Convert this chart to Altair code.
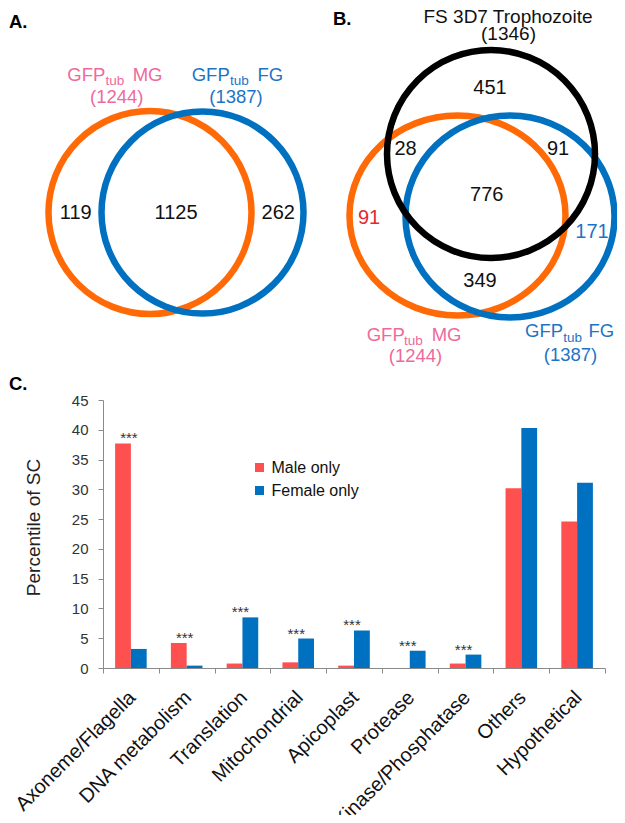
import altair as alt
import pandas as pd

# ---------------- data ----------------
categories = ["Axoneme/Flagella", "DNA metabolism", "Translation", "Mitochondrial",
              "Apicoplast", "Protease", "Kinase/Phosphatase", "Others", "Hypothetical"]
male_only = [37.7, 4.2, 0.75, 0.95, 0.4, 0.0, 0.75, 30.2, 24.6]
female_only = [3.2, 0.4, 8.5, 4.95, 6.3, 2.9, 2.25, 40.3, 31.1]
significant = [True, True, True, True, True, True, True, False, False]
series_names = ["Male only", "Female only"]
y_ticks = [0, 5, 10, 15, 20, 25, 30, 35, 40, 45]

venn_a_counts = ["119", "1125", "262"]                       # MG only, MG&FG, FG only
venn_b_counts = ["451", "28", "91", "776", "91", "171", "349"]  # FS, FS&MG, FS&FG, all, MG, FG, MG&FG
mg_total, fg_total, fs_total = "(1244)", "(1387)", "(1346)"

# ---------------- styling ----------------
FONT = "Liberation Sans"
RED, BLUE = "#FF5050", "#0070C0"
ORANGE, RING_BLUE = "#FF6A06", "#0070C0"
PINK, LBLUE, NRED = "#EE6A9B", "#1E74C4", "#E22A2E"
BAR_W, BAR_H = 502, 268
PX0, PY0 = 103, 400          # picture position of the bar plot's top-left corner

# ---------------- bar chart ----------------
bars_df = pd.DataFrame({
    "category": categories * 2,
    "series": [s for s in series_names for _ in categories],
    "value": male_only + female_only,
})
stars_df = pd.DataFrame({
    "category": [c for c, s in zip(categories, significant) if s],
    "value": [max(m, f) for m, f, s in zip(male_only, female_only, significant) if s],
})

x_enc = alt.X("category:N", sort=categories,
              scale=alt.Scale(domain=categories, paddingInner=0, paddingOuter=0),
              axis=alt.Axis(title=None, labelAngle=315, labelAlign="right", labelBaseline="top",
                            labelFontSize=20, labelColor="#111", labelPadding=14, labelOffset=-6,
                            labelLimit=0, labelOverlap=False, tickBand="extent", tickSize=5,
                            tickColor="#8a8a8a", domainColor="#8a8a8a", grid=False))
y_enc = alt.Y("value:Q", scale=alt.Scale(domain=[0, 45], nice=False),
              axis=alt.Axis(values=y_ticks, title="Percentile of SC", titleFontSize=19,
                            titleFontWeight="normal", titleColor="#222", titleAngle=270,
                            titleX=-70, titleY=127, titleAlign="center", titleBaseline="middle",
                            labelFontSize=15, labelColor="#333", labelPadding=10, tickSize=5,
                            tickColor="#8a8a8a", domainColor="#8a8a8a", grid=False))

bars = alt.Chart(bars_df).mark_bar().encode(
    x=x_enc,
    xOffset=alt.XOffset("series:N", sort=series_names,
                        scale=alt.Scale(domain=series_names, paddingInner=0, paddingOuter=0.766)),
    y=y_enc,
    color=alt.Color("series:N", scale=alt.Scale(domain=series_names, range=[RED, BLUE]),
                    legend=alt.Legend(title=None, orient="none", legendX=148.5, legendY=59.5,
                                      symbolType="square", symbolSize=81, symbolStrokeWidth=0,
                                      labelFontSize=16, labelColor="#111", labelOffset=4,
                                      rowPadding=7, padding=0)),
)
stars = alt.Chart(stars_df).mark_text(text="***", fontSize=15, baseline="middle", dy=-5, dx=-2,
                                      color="#333").encode(x=x_enc, y=y_enc)
bar_part = alt.layer(bars, stars)

# ---------------- Venn diagrams (picture coordinates through linear scales) ----------------
vx = alt.X("x:Q", scale=alt.Scale(domain=[PX0, PX0 + BAR_W], nice=False, zero=False), axis=None)
vy = alt.Y("y:Q", scale=alt.Scale(domain=[PY0, PY0 + BAR_H], nice=False, zero=False, reverse=True),
           axis=None)


def ellipse(r):
    k = 0.5523
    return (f"M-1,0C-1,{-k*r:.4f},{-k:.4f},{-r:.4f},0,{-r:.4f}"
            f"C{k:.4f},{-r:.4f},1,{-k*r:.4f},1,0"
            f"C1,{k*r:.4f},{k:.4f},{r:.4f},0,{r:.4f}"
            f"C{-k:.4f},{r:.4f},-1,{k*r:.4f},-1,0Z")


rings_df = pd.DataFrame([
    dict(x=150.0, y=212.5, shape="circle", size=203 ** 2, color=ORANGE),
    dict(x=202.5, y=212.5, shape="circle", size=202 ** 2, color=RING_BLUE),
    dict(x=457.5, y=215.5, shape=ellipse(200 / 216), size=216 ** 2, color=ORANGE),
    dict(x=510.0, y=216.5, shape=ellipse(202 / 209), size=209 ** 2, color=RING_BLUE),
    dict(x=491.0, y=154.0, shape="circle", size=208 ** 2, color="#000000"),
])
rings = alt.Chart(rings_df).mark_point(filled=False, strokeWidth=6.5, opacity=1).encode(
    x=vx, y=vy,
    shape=alt.Shape("shape:N", scale=None),
    size=alt.Size("size:Q", scale=None),
    color=alt.Color("color:N", scale=None),
)

left_df = pd.DataFrame([
    # panel A
    dict(x=67.3, y=80.7, text="GFP", color=PINK, fs=18.5),
    dict(x=105.5, y=85.0, text="tub", color=PINK, fs=13.5),
    dict(x=132.7, y=80.7, text="MG", color=PINK, fs=18.5),
    dict(x=191.7, y=80.7, text="GFP", color=LBLUE, fs=18.5),
    dict(x=230.0, y=85.0, text="tub", color=LBLUE, fs=13.5),
    dict(x=257.5, y=80.7, text="FG", color=LBLUE, fs=18.5),
    # panel B
    dict(x=366.7, y=340.7, text="GFP", color=PINK, fs=18.5),
    dict(x=404.0, y=345.0, text="tub", color=PINK, fs=13.5),
    dict(x=431.7, y=340.7, text="MG", color=PINK, fs=18.5),
    dict(x=525.0, y=337.3, text="GFP", color=LBLUE, fs=18.5),
    dict(x=563.3, y=341.7, text="tub", color=LBLUE, fs=13.5),
    dict(x=588.5, y=337.3, text="FG", color=LBLUE, fs=18.5),
])
center_df = pd.DataFrame([
    dict(x=116.7, y=102.5, text=mg_total, color=PINK, fs=18.5),
    dict(x=236.0, y=102.5, text=fg_total, color=LBLUE, fs=18.5),
    dict(x=508.0, y=23.0, text="FS  3D7 Trophozoite", color="#111", fs=19),
    dict(x=508.5, y=39.5, text=fs_total, color="#111", fs=19),
    dict(x=415.5, y=362.0, text=mg_total, color=PINK, fs=18.5),
    dict(x=570.5, y=360.5, text=fg_total, color=LBLUE, fs=18.5),
])
count_pos = [(75.8, 213), (176.0, 213), (278.3, 213)]
count_pos_b = [(490, 88), (405.5, 149), (558, 149), (486.7, 195), (369, 218), (592, 232), (480, 281)]
count_col_b = ["#111", "#111", "#111", "#111", NRED, LBLUE, "#111"]
counts_df = pd.DataFrame(
    [dict(x=p[0], y=p[1], text=t, color="#111") for p, t in zip(count_pos, venn_a_counts)]
    + [dict(x=p[0], y=p[1], text=t, color=c) for p, t, c in zip(count_pos_b, venn_b_counts, count_col_b)]
)
letters_df = pd.DataFrame([
    dict(x=9, y=28, text="A."),
    dict(x=333, y=25, text="B."),
    dict(x=9, y=390, text="C."),
])

left_text = alt.Chart(left_df).mark_text(align="left", baseline="alphabetic").encode(
    x=vx, y=vy, text="text:N", color=alt.Color("color:N", scale=None), size=alt.Size("fs:Q", scale=None))
center_text = alt.Chart(center_df).mark_text(align="center", baseline="alphabetic").encode(
    x=vx, y=vy, text="text:N", color=alt.Color("color:N", scale=None), size=alt.Size("fs:Q", scale=None))
counts = alt.Chart(counts_df).mark_text(align="center", baseline="middle", fontSize=20).encode(
    x=vx, y=vy, text="text:N", color=alt.Color("color:N", scale=None))
letters = alt.Chart(letters_df).mark_text(align="left", baseline="alphabetic", fontSize=18.5,
                                          fontWeight="bold", color="#000").encode(
    x=vx, y=vy, text="text:N")

venn = alt.layer(rings, left_text, center_text, counts, letters)

# picture (8,8) is the page origin of the chart; plot area sits at (PX0, PY0)
pad = {"left": PX0 - 8, "top": PY0 - 8, "right": 617 - (PX0 + BAR_W), "bottom": 815 - (PY0 + BAR_H)}

chart = (
    alt.layer(bar_part, venn)
    .resolve_scale(x="independent", y="independent", color="independent",
                   size="independent", shape="independent")
    .properties(width=BAR_W, height=BAR_H, padding=pad,
                autosize=alt.AutoSizeParams(type="none"))
    .configure(font=FONT)
    .configure_view(stroke=None)
)

chart.save("out.html", embed_options={"renderer": "svg", "actions": False})
